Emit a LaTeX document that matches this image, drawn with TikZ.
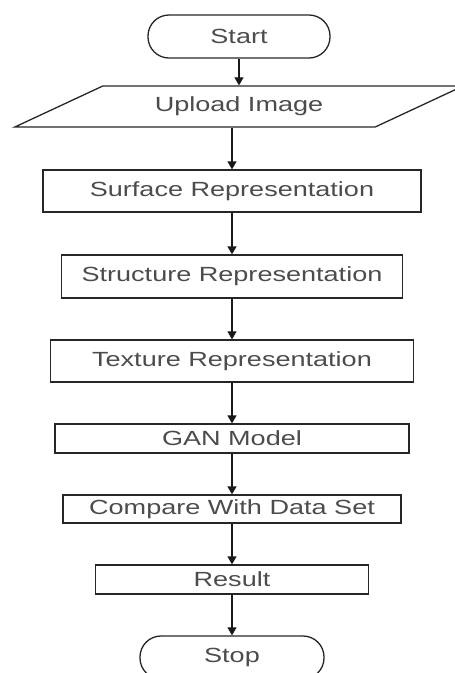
\documentclass[tikz,border=0pt]{standalone}
\usepackage{fontspec}
\setmainfont{Liberation Sans}[FakeStretch=1.32]
\usetikzlibrary{positioning,shapes.geometric,arrows.meta}
\tikzset{every node/.style={draw=black!85, line width=1.3pt, text=black!70, font=\fontsize{20.5}{24}\selectfont}}
\tikzset{every edge/.style={draw=black!90, line width=1.3pt, -{Triangle[width=9pt,length=8pt]}}}
\tikzset{terminal/.style={rectangle, rounded corners=21pt, minimum width=182pt, minimum height=43pt}}
\tikzset{iobox/.style={trapezium, trapezium left angle=24.5, trapezium right angle=155.5, trapezium stretches=true, minimum width=449pt, minimum height=41pt}}
\tikzset{stepbox/.style={rectangle, inner sep=0pt, minimum height=42pt}}

\begin{document}
\begin{tikzpicture}[x=1pt, y=-1pt]
  \clip (0,0) rectangle (455,673);
  \useasboundingbox (0,0) rectangle (455,673);

  \node (start) [terminal] at (239,36.5) {Start};
  \node (upload) [iobox, node distance = 70pt, below of = start] {Upload Image};
  \node (surf) [stepbox, minimum width=378pt, node distance = 84.5pt, below of = upload, xshift=-7pt] {Surface Representation};
  \node (struct) [stepbox, minimum width=341pt, minimum height=43pt, node distance = 85.5pt, below of = surf] {Structure Representation};
  \node (text) [stepbox, minimum width=363pt, node distance = 84.5pt, below of = struct] {Texture Representation};
  \node (gan) [stepbox, minimum width=354pt, minimum height=29pt, node distance = 77.5pt, below of = text] {GAN Model};
  \node (comp) [stepbox, minimum width=338pt, minimum height=28pt, node distance = 70.5pt, below of = gan] {Compare With Data Set};
  \node (res) [stepbox, minimum width=273pt, minimum height=29pt, node distance = 70.5pt, below of = comp] {Result};
  \node (stop) [terminal, minimum width=184pt, node distance = 78pt, below of = res] {Stop};

  \path (start) edge (upload);
  \path (upload.south -| surf.north) edge (surf);
  \path (surf) edge (struct);
  \path (struct) edge (text);
  \path (text) edge (gan);
  \path (gan) edge (comp);
  \path (comp) edge (res);
  \path (res) edge (stop);
\end{tikzpicture}
\end{document}
